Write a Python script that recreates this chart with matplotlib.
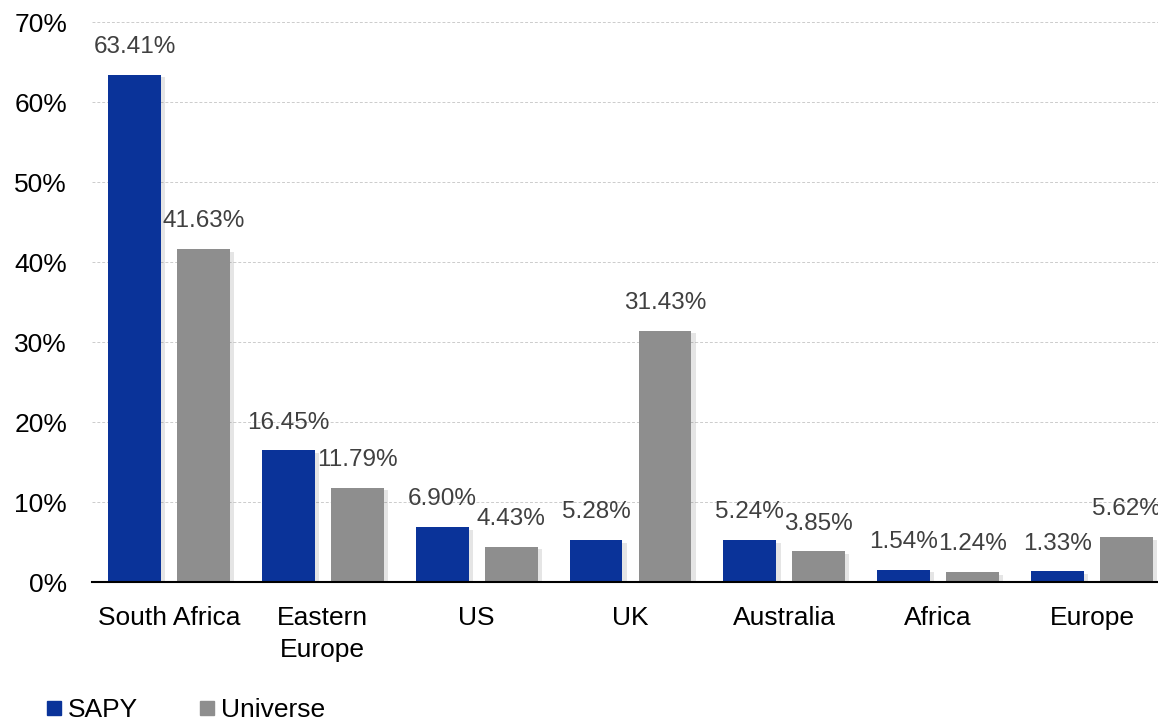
import matplotlib
matplotlib.use('Agg')
import matplotlib.pyplot as plt
import matplotlib.patheffects as pe
from matplotlib.lines import Line2D
import numpy as np

plt.rcParams['font.family'] = ['Liberation Sans', 'DejaVu Sans']

# datos
regiones = ['South Africa', 'Eastern\nEurope', 'US', 'UK', 'Australia', 'Africa', 'Europe']
sapy = [63.41, 16.45, 6.90, 5.28, 5.24, 1.54, 1.33]
universo = [41.63, 11.79, 4.43, 31.43, 3.85, 1.24, 5.62]
yticks = [0, 10, 20, 30, 40, 50, 60, 70]

azul = '#0a3399'
gris = '#8e8e8e'

fig = plt.figure(figsize=(11.58, 7.22), dpi=100)
ax = fig.add_axes([92/1158, 1-582/722, 1077/1158, 560/722])

x = np.arange(len(regiones))
ancho = 0.344
sombra = [pe.SimplePatchShadow(offset=(3, -2), alpha=0.10, shadow_rgbFace='k'), pe.Normal()]

b1 = ax.bar(x - 0.224, sapy, ancho, color=azul, zorder=3, path_effects=sombra)
b2 = ax.bar(x + 0.224, universo, ancho, color=gris, zorder=3, path_effects=sombra)

for barras, vals in [(b1, sapy), (b2, universo)]:
    for b, v in zip(barras, vals):
        ax.annotate('%.2f%%' % v, (b.get_x() + b.get_width()/2, v),
                    xytext=(0, 12), textcoords='offset points',
                    ha='center', va='bottom', fontsize=17.5, color='#404040')

ax.set_xlim(-0.5, len(regiones) - 0.5)
ax.set_ylim(0, 70)
ax.set_yticks(yticks)
ax.set_yticklabels(['%d%%' % t for t in yticks])
ax.set_xticks(x)
ax.set_xticklabels(regiones, linespacing=1.42)
ax.tick_params(axis='both', length=0, labelsize=19, colors='black')
ax.tick_params(axis='y', pad=18)
ax.tick_params(axis='x', pad=17)

ax.grid(axis='y', linestyle=(0, (3, 2)), color='#cccccc', linewidth=0.7, zorder=0)
for s in ['top', 'right', 'left']:
    ax.spines[s].set_visible(False)
ax.spines['bottom'].set_color('black')
ax.spines['bottom'].set_linewidth(1.5)
ax.spines['bottom'].set_zorder(4)

handles = [Line2D([], [], marker='s', linestyle='none', markersize=10, color=azul),
           Line2D([], [], marker='s', linestyle='none', markersize=10, color=gris)]
fig.legend(handles, ['SAPY', 'Universe'], loc='lower left', bbox_to_anchor=(0.024, -0.018),
           ncol=2, frameon=False, fontsize=19, handletextpad=0.0, columnspacing=2.15,
           handlelength=1.0, borderpad=0)

plt.savefig('out.png', dpi=100)
plt.close('all')
